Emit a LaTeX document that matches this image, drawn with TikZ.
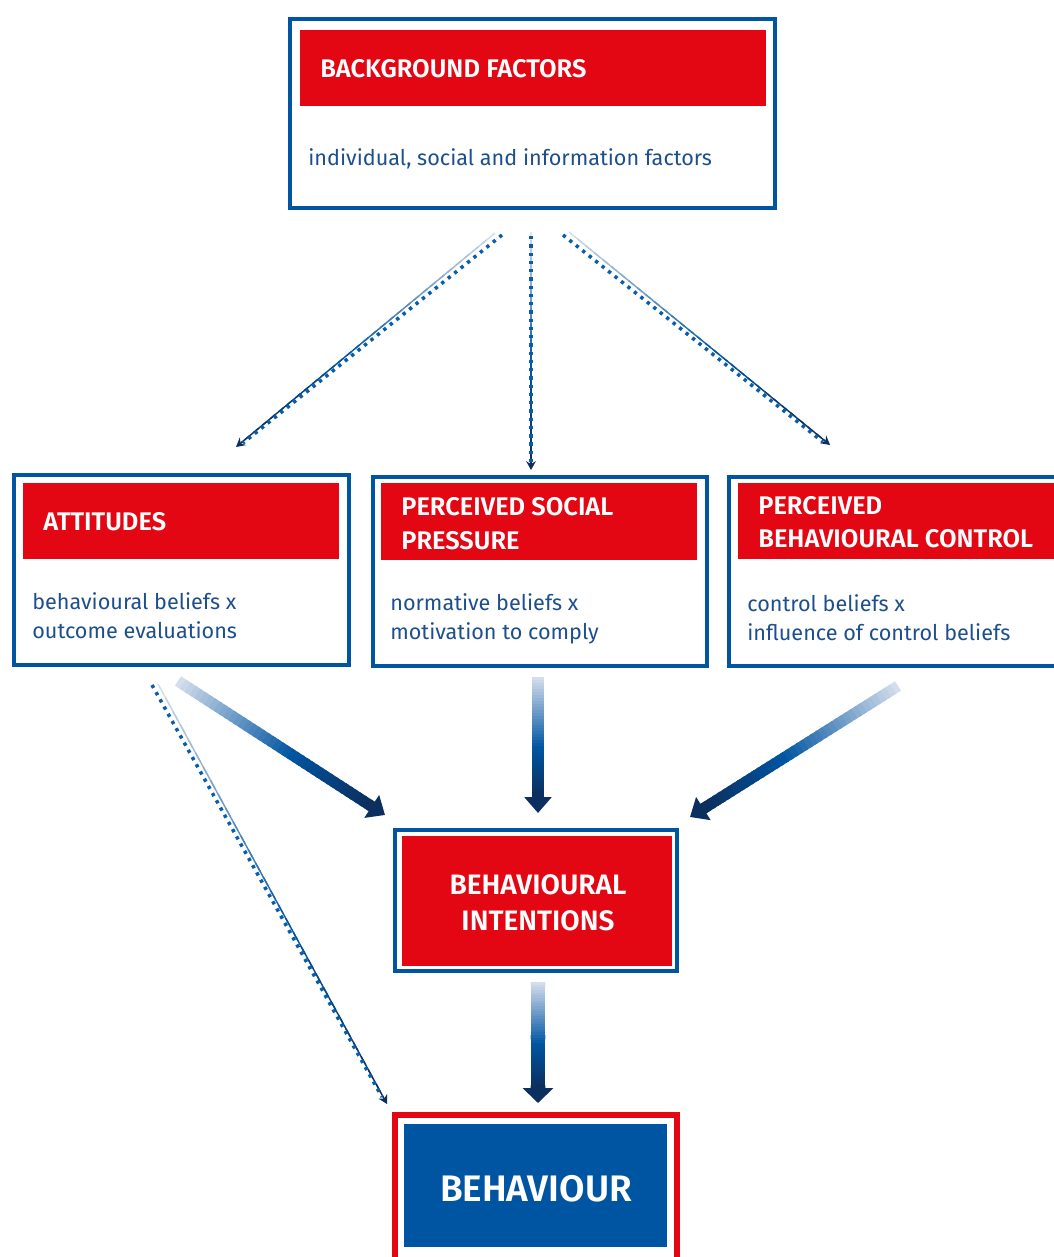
\documentclass[tikz,border=0pt]{standalone}
\usepackage{fontspec}
\setmainfont{Fira Sans}[BoldFont={Fira Sans SemiBold}]
\usetikzlibrary{arrows.meta,calc}

\definecolor{bred}{HTML}{E30613}
\definecolor{bblue}{HTML}{0055A2}
\definecolor{tblue}{HTML}{1D4F8C}
\definecolor{glight}{HTML}{DCE3EF}
\definecolor{gmid}{HTML}{0055A2}
\definecolor{gdark}{HTML}{0B2F5E}
\definecolor{dotc}{HTML}{0A5DAB}

% shaded line from #1 to #2, width #3, drawn in #4 short pieces (light -> blue -> navy)
\newcommand\gradline[4]{%
  \foreach \k in {1,...,#4}{%
    \pgfmathsetmacro\ta{(\k-1)/#4}%
    \pgfmathsetmacro\tb{min(1,(\k+0.6)/#4)}%
    \pgfmathsetmacro\pe{min(100,100*\k/#4/0.6)}%
    \pgfmathsetmacro\pd{max(0,100*(\k/#4-0.6)/0.4)}%
    \draw[line width=#3, line cap=butt, color=gdark!\pd!gmid!\pe!glight]
      ($(#1)!\ta!(#2)$) -- ($(#1)!\tb!(#2)$);
  }%
}
% thick shaded arrow: from, to, shaft width, head length, head width
\newcommand\gradarrow[5]{%
  \coordinate (ga-base) at ($(#2)!#4!(#1)$);
  \gradline{#1}{ga-base}{#3}{40}
  \draw[gdark, line width=#3, -{Triangle[length=#4,width=#5]}]
    ($(#2)!#4+1pt!(#1)$) -- (#2);
}
% thin shaded line with a small head
\newcommand\thinarrow[2]{%
  \coordinate (ta-base) at ($(#2)!4pt!(#1)$);
  \gradline{#1}{ta-base}{0.8pt}{30}
  \draw[gdark, line width=0.8pt, -{Stealth[length=5pt,width=5.5pt]}]
    ($(#2)!5pt!(#1)$) -- (#2);
}

\begin{document}
\begin{tikzpicture}[x=0.02cm,y=-0.02cm,
  outerbox/.style={draw=bblue, line width=2pt, fill=white, inner sep=0},
  redband/.style={fill=bred, inner sep=0},
  titletext/.style={text=white, font=\bfseries\fontsize{14.5}{17}\selectfont, anchor=base west, inner sep=0},
  bodytext/.style={text=tblue, font=\fontsize{12.3}{14}\selectfont, anchor=base west, inner sep=0},
  dotline/.style={dotc, line width=2pt, dash pattern=on 1.9pt off 2.8pt}]

\clip (0,0) rectangle (1054,1257);
\fill[white] (0,0) rectangle (1054,1257);

% background factors
\node[outerbox, minimum width=9.71cm, minimum height=3.79cm] (bg) at (532.5,113.5) {};
\node[redband, minimum width=9.32cm, minimum height=1.52cm] (bgr) at (533,68) {};
\node[titletext] (bgt) at (320,78) {BACKGROUND FACTORS};
\node[bodytext] (bgb) at (308,165) {individual, social and information factors};

% attitudes
\node[outerbox, minimum width=6.71cm, minimum height=3.81cm] (att) at (181.5,570) {};
\node[redband, minimum width=6.32cm, minimum height=1.52cm] (attr) at (181,521) {};
\node[titletext] (attt) at (43,530) {ATTITUDES};
\node[bodytext] (attb1) at (32,609) {behavioural beliefs x};
\node[bodytext] (attb2) at (32,638) {outcome evaluations};

% perceived social pressure
\node[outerbox, minimum width=6.69cm, minimum height=3.79cm] (psp) at (540,571.5) {};
\node[redband, minimum width=6.32cm, minimum height=1.54cm] (pspr) at (539,521.5) {};
\node[titletext] (pspt1) at (401,515) {PERCEIVED SOCIAL};
\node[titletext] (pspt2) at (401,549) {PRESSURE};
\node[bodytext] (pspb1) at (390,610) {normative beliefs x};
\node[bodytext] (pspb2) at (390,639) {motivation to comply};

% perceived behavioural control
\node[outerbox, minimum width=6.82cm, minimum height=3.79cm] (pbc) at (899.5,571.5) {};
\node[redband, minimum width=6.44cm, minimum height=1.52cm] (pbcr) at (899,521) {};
\node[titletext] (pbct1) at (758,514) {PERCEIVED};
\node[titletext] (pbct2) at (758,547) {BEHAVIOURAL CONTROL};
\node[bodytext] (pbcb1) at (747,611) {control beliefs x};
\node[bodytext] (pbcb2) at (747,640) {influence of control beliefs};

% behavioural intentions
\node[outerbox, minimum width=5.65cm, minimum height=2.83cm] (bi) at (536,900.5) {};
\node[redband, minimum width=5.4cm, minimum height=2.6cm] (bir) at (537,901) {};
\node[titletext, font=\bfseries\fontsize{16}{19}\selectfont, anchor=base] (bit1) at (538,894) {BEHAVIOURAL};
\node[titletext, font=\bfseries\fontsize{16}{19}\selectfont, anchor=base] (bit2) at (538,930) {INTENTIONS};

% behaviour
\node[draw=bred, line width=3.4pt, fill=white, inner sep=0, minimum width=5.64cm, minimum height=3.14cm] (beh) at (536,1193.5) {};
\node[fill=bblue, inner sep=0, minimum width=5.26cm, minimum height=2.46cm] (behb) at (535.5,1185.5) {};
\node[text=white, font=\bfseries\fontsize{21}{25}\selectfont, anchor=base, inner sep=0] (beht) at (536,1201) {BEHAVIOUR};

% connector end points
\coordinate (c1s) at (495,233);  \coordinate (c1e) at (236,447);
\coordinate (d1s) at (502,235);  \coordinate (d1e) at (243,443);
\coordinate (c2s) at (531,232);  \coordinate (c2e) at (531,470);
\coordinate (d2s) at (531,236);  \coordinate (d2e) at (531,462);
\coordinate (c3s) at (569,232);  \coordinate (c3e) at (830,445);
\coordinate (d3s) at (563,235);  \coordinate (d3e) at (823,442);
\coordinate (c4s) at (158,684);  \coordinate (c4e) at (387,1104);
\coordinate (d4s) at (152,685);  \coordinate (d4e) at (382,1097);

% dotted influence lines
\thinarrow{c1s}{c1e}
\draw[dotline] (d1s) -- (d1e);
\thinarrow{c2s}{c2e}
\draw[dotline] (d2s) -- (d2e);
\thinarrow{c3s}{c3e}
\draw[dotline] (d3s) -- (d3e);
\thinarrow{c4s}{c4e}
\draw[dotline] (d4s) -- (d4e);

% thick shaded arrows
\coordinate (a1s) at (178,681); \coordinate (a1e) at (385,815);
\coordinate (a2s) at (538,677); \coordinate (a2e) at (538,813);
\coordinate (a3s) at (898,686); \coordinate (a3e) at (690,817);
\coordinate (a4s) at (538,982); \coordinate (a4e) at (538,1103);
\gradarrow{a1s}{a1e}{6.3pt}{9pt}{15pt}
\gradarrow{a2s}{a2e}{6.8pt}{9pt}{15pt}
\gradarrow{a3s}{a3e}{6.3pt}{9pt}{15pt}
\gradarrow{a4s}{a4e}{8.5pt}{8.5pt}{17pt}
\end{tikzpicture}
\end{document}
